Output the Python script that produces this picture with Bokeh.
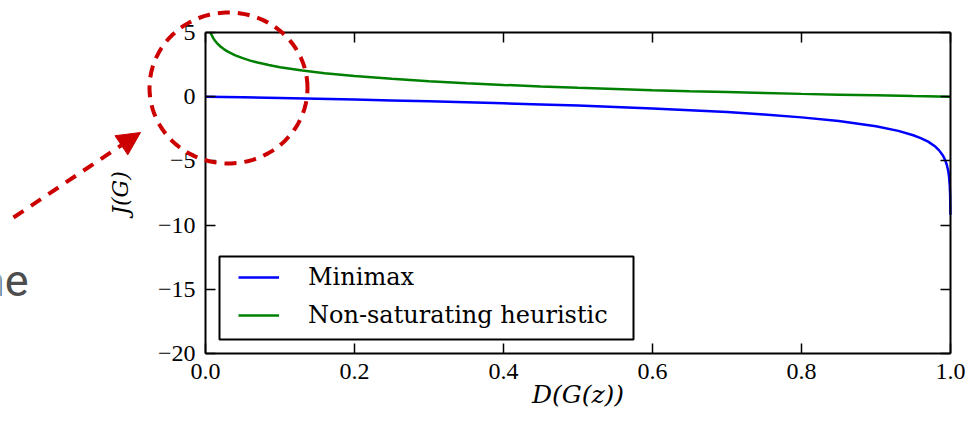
import math
from bokeh.plotting import figure
from bokeh.models import (Range1d, FixedTicker, LinearAxis, Legend, LegendItem,
                          Label, Arrow, NormalHead, PolyAnnotation, BoxAnnotation)
from bokeh.embed import file_html
from bokeh.resources import INLINE

# ---- data ----
x_minimax = [0.0, 0.05, 0.1, 0.15, 0.2, 0.25, 0.3, 0.35, 0.4, 0.45, 0.5, 0.55, 0.6,
             0.65, 0.7, 0.75, 0.8, 0.85, 0.9, 0.93, 0.95, 0.96, 0.97, 0.98, 0.985,
             0.99, 0.993, 0.995, 0.997, 0.998, 0.999, 0.9995, 0.9999]
y_minimax = [0.0, -0.05, -0.105, -0.16, -0.22, -0.29, -0.36, -0.43, -0.51, -0.6, -0.69,
             -0.8, -0.92, -1.05, -1.2, -1.39, -1.61, -1.9, -2.3, -2.66, -3.0, -3.22,
             -3.5, -3.9, -4.2, -4.6, -4.96, -5.3, -5.8, -6.2, -6.9, -7.6, -9.2]

x_nonsat = [0.0067, 0.008, 0.01, 0.0125, 0.015, 0.02, 0.025, 0.03, 0.04, 0.05, 0.06, 0.07,
            0.085, 0.1, 0.13, 0.16, 0.2, 0.25, 0.3, 0.35, 0.4, 0.45, 0.5, 0.55, 0.6,
            0.65, 0.7, 0.75, 0.8, 0.85, 0.9, 0.95, 1.0]
y_nonsat = [5.0, 4.83, 4.6, 4.38, 4.2, 3.91, 3.69, 3.51, 3.22, 3.0, 2.81, 2.66, 2.47,
            2.3, 2.04, 1.83, 1.61, 1.39, 1.2, 1.05, 0.92, 0.8, 0.69, 0.6, 0.51, 0.43,
            0.36, 0.29, 0.22, 0.16, 0.105, 0.05, 0.0]

series_names = ["Minimax", "Non-saturating heuristic"]
series_colors = ["#0000ff", "#008000"]

x_ticks = [0.0, 0.2, 0.4, 0.6, 0.8, 1.0]
x_tick_labels = ["0.0", "0.2", "0.4", "0.6", "0.8", "1.0"]
y_ticks = [-20, -15, -10, -5, 0, 5]
y_tick_labels = ["\u221220", "\u221215", "\u221210", "\u22125", "0", "5"]
x_lim = (0.0, 1.0)
y_lim = (-20, 5)

x_label = "D(G(z))"
y_label = "J(G)"
side_text = "ne"

TICK_FONT = "Liberation Serif"
LEG_FONT = "DejaVu Serif"

# ---- layout (pixels) ----
W, H = 969, 422
PL, PR, PT, PB = 205, 950, 32, 353          # chart box inside the canvas
sx = (x_lim[1] - x_lim[0]) / (PR - PL)       # data units per pixel
sy = (y_lim[1] - y_lim[0]) / (PB - PT)
xr = Range1d(x_lim[0] - PL * sx, x_lim[1] + (W - PR) * sx)
yr = Range1d(y_lim[0] - (H - PB) * sy, y_lim[1] + PT * sy)

p = figure(width=W, height=H, output_backend="svg", toolbar_location=None,
           x_range=xr, y_range=yr, min_border=0,
           x_axis_location=None, y_axis_location=None)
p.background_fill_color = "white"
p.border_fill_color = "white"
p.outline_line_color = None
p.xgrid.visible = False
p.ygrid.visible = False


def make_axis(ticks, labels, loc, bounds, show_labels):
    ax = LinearAxis(fixed_location=loc, bounds=bounds)
    ax.ticker = FixedTicker(ticks=ticks)
    ax.major_label_overrides = {t: l for t, l in zip(ticks, labels)}
    ax.major_tick_in = 10
    ax.major_tick_out = 0
    ax.minor_tick_line_color = None
    ax.major_tick_line_color = "black"
    ax.major_tick_line_width = 1.5
    ax.axis_line_color = "black"
    ax.axis_line_width = 2
    ax.major_label_text_font = TICK_FONT
    ax.major_label_text_font_size = "24px"
    ax.major_label_text_color = "black" if show_labels else None
    return ax


xb = make_axis(x_ticks, x_tick_labels, y_lim[0], x_lim, True)
xb.axis_label = x_label
xb.major_label_standoff = 10
xb.axis_label_standoff = -2
xb.axis_label_text_font = LEG_FONT
xb.axis_label_text_font_style = "italic"
xb.axis_label_text_font_size = "25px"
xb.axis_label_text_color = "black"
p.add_layout(xb, "below")

yl = make_axis(y_ticks, y_tick_labels, x_lim[0], y_lim, True)
yl.axis_label = y_label
yl.major_label_standoff = 10
yl.axis_label_standoff = 22
yl.axis_label_text_font = LEG_FONT
yl.axis_label_text_font_style = "italic"
yl.axis_label_text_font_size = "22px"
yl.axis_label_text_color = "black"
p.add_layout(yl, "left")

xt = make_axis(x_ticks, x_tick_labels, y_lim[1], x_lim, False)
p.add_layout(xt, "above")

yrt = make_axis(y_ticks, y_tick_labels, x_lim[1], y_lim, False)
p.add_layout(yrt, "right")

r1 = p.line(x_minimax, y_minimax, line_color=series_colors[0], line_width=2.5)
r2 = p.line(x_nonsat, y_nonsat, line_color=series_colors[1], line_width=2.5)

# legend frame (drawn separately so the inner padding can differ)
p.add_layout(BoxAnnotation(left=219, right=633, bottom=H - 339, top=H - 256,
                           left_units="screen", right_units="screen",
                           bottom_units="screen", top_units="screen",
                           fill_alpha=0, line_color="black", line_alpha=1,
                           line_width=2))

legend = Legend(items=[LegendItem(label=series_names[0], renderers=[r1]),
                       LegendItem(label=series_names[1], renderers=[r2])],
                location=(219, H - 351), padding=19, spacing=4,
                glyph_width=41, glyph_height=34, label_height=34,
                label_standoff=29, label_text_font=LEG_FONT,
                label_text_font_size="24px", label_text_color="black",
                background_fill_alpha=0, border_line_alpha=0)
p.add_layout(legend)

# red dashed highlight circle
cx, cy, rx, ry = 228, H - 87.5, 79, 75.5
n = 90
circ_x = [cx + rx * math.cos(2 * math.pi * k / n) for k in range(n)]
circ_y = [cy + ry * math.sin(2 * math.pi * k / n) for k in range(n)]
p.add_layout(PolyAnnotation(xs=circ_x, ys=circ_y, xs_units="screen", ys_units="screen",
                            fill_alpha=0, line_color="#cc0000", line_alpha=1,
                            line_width=4, line_dash="12 8"))

p.add_layout(Arrow(x_start=13, y_start=H - 217, x_end=140, y_end=H - 132,
                   start_units="screen", end_units="screen",
                   line_color="#cc0000", line_width=4, line_dash="12 9",
                   end=NormalHead(size=23, fill_color="#cc0000", line_color="#cc0000",
                                  line_width=1)))

p.add_layout(Label(x=28, y=H - 280, x_units="screen", y_units="screen", text=side_text,
                   text_align="right", text_baseline="alphabetic",
                   text_font="Roboto", text_font_size="45px",
                   text_color="#4d4d4d"))

open("out.html", "w").write(file_html(p, INLINE))
